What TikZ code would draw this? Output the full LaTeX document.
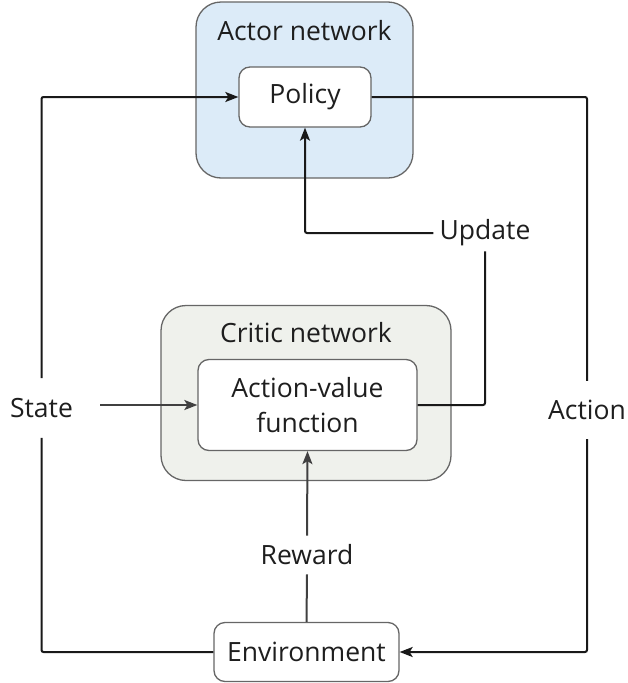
\documentclass[tikz,border=0pt]{standalone}
\usepackage{fontspec}
\setmainfont{Open Sans}
\usetikzlibrary{arrows.meta}
\definecolor{actorfill}{HTML}{DCEBF8}
\definecolor{criticfill}{HTML}{EFF1EC}
\definecolor{edge}{HTML}{666666}
\definecolor{ink}{HTML}{1E1E1E}
\tikzset{
  container/.style={draw=edge, line width=1.3pt, rounded corners=25pt, inner sep=0pt},
  block/.style={draw=edge, line width=1.3pt, fill=white, rounded corners=11pt, inner sep=0pt, align=center, text=ink},
  caption/.style={text=ink, inner xsep=4pt},
  link/.style={line width=2pt, draw=black!90},
  softlink/.style={line width=2pt, draw=black!75},
  tip/.style={-{Stealth[length=13pt,width=10pt,inset=3pt]}},
}
\begin{document}
\begin{tikzpicture}[x=1pt, y=-1pt, font=\fontsize{26.5}{32}\selectfont]
\useasboundingbox (0,0) rectangle (628,683);

% actor network
\node[container, fill=actorfill, minimum width=217pt, minimum height=176pt] (actor) at (304.5,90) {};
\node[caption] (actorlbl) at (304.5,31) {Actor network};
\node[block, minimum width=132pt, minimum height=60pt] (policy) at (305,97) {Policy};

% critic network
\node[container, fill=criticfill, minimum width=290pt, minimum height=175pt] (critic) at (306,393) {};
\node[caption] (criticlbl) at (306,333) {Critic network};
\node[block, minimum width=219pt, minimum height=91pt] (av) at (307.5,405) {Action-value\\[3pt]function};

% environment
\node[block, minimum width=185pt, minimum height=59pt] (env) at (306.5,652) {Environment};

% free-standing signal labels
\node[caption, inner ysep=20pt, inner xsep=0pt] (statetxt) at (41.5,408) {State};
\coordinate (stateout) at (100,405);
\node[caption, inner ysep=19pt] (action) at (587,410) {Action};
\node[caption, inner ysep=9pt] (reward) at (307,555) {Reward};
\node[caption, inner xsep=6pt, inner ysep=5pt] (update) at (485,233) {Update};

% state loop on the left
\draw[link, tip, rounded corners=2pt] (statetxt.north) |- (policy.west);
\draw[link, rounded corners=2pt] (env.west) -| (statetxt.south);
\draw[softlink, tip] (stateout) -- (stateout -| av.west);

% action loop on the right
\draw[link, rounded corners=2pt] (policy.east) -| (action.north);
\draw[link, tip, rounded corners=2pt] (action.south) |- (env.east);

% critic update of the policy
\draw[link, tip, rounded corners=2pt] (update.west) -| (policy.south);
\draw[link, rounded corners=2pt] (av.east) -| (update.south);

% reward into the critic
\draw[softlink, tip] (reward.north) -- (av.south);
\draw[softlink] (env.north) -- (reward.south);
\end{tikzpicture}
\end{document}
